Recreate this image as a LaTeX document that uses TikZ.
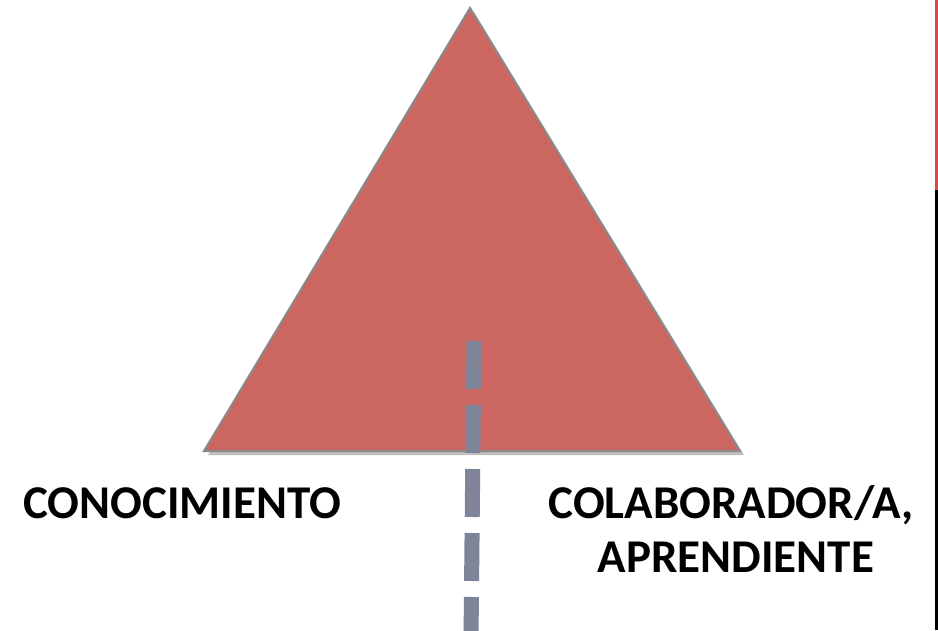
\documentclass[tikz,border=0pt]{standalone}
\usepackage{fontspec}
\setmainfont{Carlito}
\usetikzlibrary{shadows}
\definecolor{trifill}{HTML}{CB6660}
\definecolor{triedge}{HTML}{8A8A8A}
\definecolor{dashcol}{HTML}{7F8499}
\definecolor{barred}{HTML}{E04848}
\tikzset{
  lbl/.style={font=\fontsize{47}{54}\selectfont\bfseries, text=black, inner sep=0pt, align=center},
  tri/.style={fill=trifill, draw=triedge, line width=2pt, line join=miter,
    drop shadow={shadow xshift=4pt, shadow yshift=-4pt, opacity=0.25, fill=black}},
  axis/.style={draw=dashcol, line width=15pt, dash pattern=on 48pt off 16pt},
}
\begin{document}
\begin{tikzpicture}[x=1pt,y=-1pt]
\useasboundingbox (0,0) rectangle (938,630);
\fill[white] (0,0) rectangle (938,630);
% triangle
\coordinate (apex) at (470,8);
\coordinate (bl) at (204,451);
\coordinate (br) at (740,451);
\path[tri] (apex) -- (br) -- (bl) -- cycle;
% dashed axis
\coordinate (axtop) at (474,341);
\coordinate (axbot) at (471,640);
\draw[axis] (axtop) -- (axbot);
% right bar
\fill[barred] (935,0) rectangle (938,190);
\fill[black] (935,190) rectangle (938,630);
% labels
\node[lbl, anchor=base] (con) at (182,518) {CONOCIMIENTO};
\node[lbl, anchor=base] (col) at (731,518) {COLABORADOR/A,};
\node[lbl, anchor=base] (apr) at (736,572) {APRENDIENTE};
\end{tikzpicture}
\end{document}
